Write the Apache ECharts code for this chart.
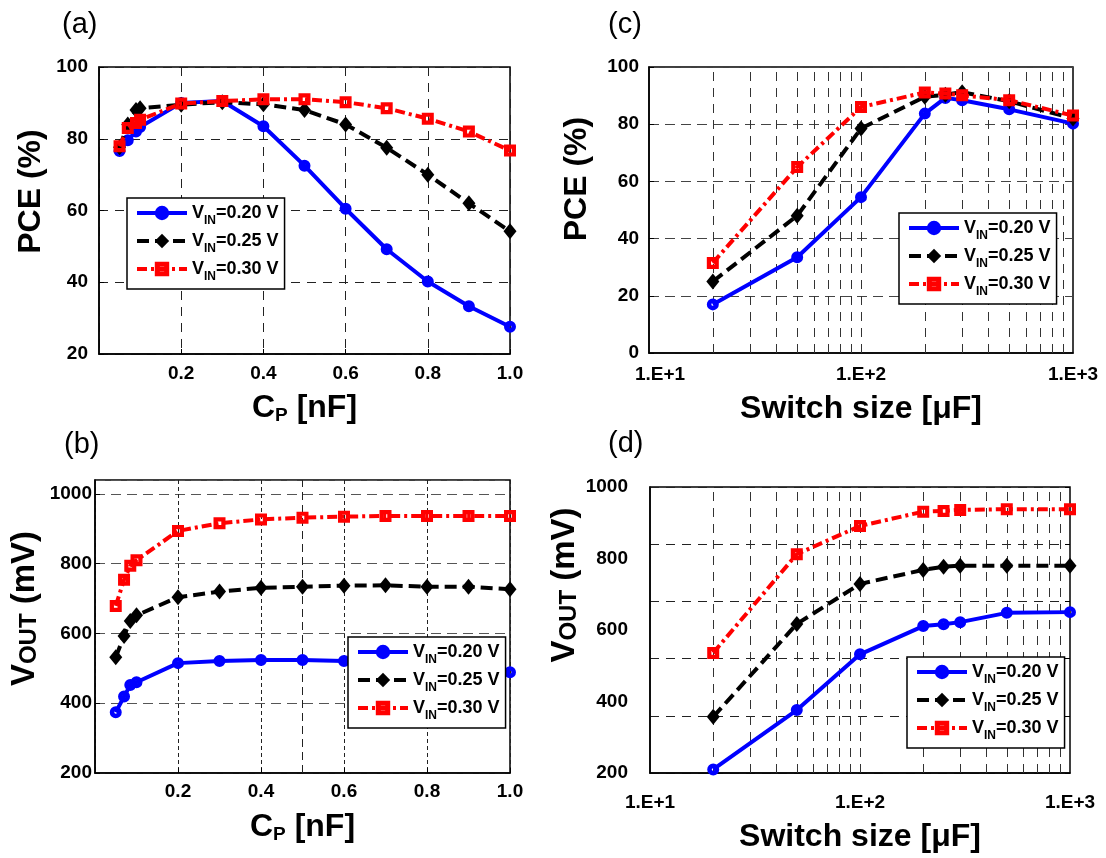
<!DOCTYPE html>
<html><head><meta charset="utf-8">
<script src="https://cdn.jsdelivr.net/npm/echarts@6/dist/echarts.min.js"></script>
<style>html,body{margin:0;padding:0;background:#fff}#c{width:1106px;height:858px}</style>
</head><body><div id="c"></div>
<script>
// ---------- data ----------
const seriesNames = ['VIN=0.20 V', 'VIN=0.25 V', 'VIN=0.30 V'];
const panelLabels = ['(a)', '(b)', '(c)', '(d)'];

// (a) PCE vs C_P
const cpA = [0.05, 0.07, 0.09, 0.1, 0.2, 0.3, 0.4, 0.5, 0.6, 0.7, 0.8, 0.9, 1.0];
const pceA020 = [76.6, 79.6, 82.0, 83.3, 90.0, 90.5, 83.5, 72.5, 60.5, 49.2, 40.2, 33.3, 27.6];
const pceA025 = [77.6, 84.0, 88.0, 88.5, 89.5, 90.2, 89.6, 88.0, 84.0, 77.5, 70.0, 62.0, 54.2];
const pceA030 = [77.9, 83.0, 84.4, 85.3, 89.8, 90.5, 91.0, 91.0, 90.2, 88.5, 85.6, 82.0, 76.7];

// (b) VOUT vs C_P
const cpB = [0.05, 0.07, 0.085, 0.1, 0.2, 0.3, 0.4, 0.5, 0.6, 0.7, 0.8, 0.9, 1.0];
const voutB020 = [374, 419, 452, 460, 515, 521, 524, 524, 521, 514, 506, 498, 489];
const voutB025 = [532, 593, 636, 652, 704, 720, 731, 734, 737, 738, 734, 734, 727];
const voutB030 = [679, 754, 794, 810, 894, 916, 927, 932, 935, 937, 937, 937, 937];

// (c) PCE vs switch size
const swC = [20, 50, 100, 200, 250, 300, 500, 1000];
const pceC020 = [17.0, 33.5, 54.5, 83.7, 89.2, 88.4, 85.2, 80.2];
const pceC025 = [25.0, 48.0, 78.5, 89.6, 90.3, 91.2, 88.0, 82.0];
const pceC030 = [31.5, 65.0, 86.0, 91.1, 90.7, 90.1, 88.4, 83.0];

// (d) VOUT vs switch size
const swD = [20, 50, 100, 200, 250, 300, 500, 1000];
const voutD020 = [210, 376, 532, 611, 616, 622, 648, 650];
const voutD025 = [357, 617, 729, 768, 777, 780, 780, 780];
const voutD030 = [536, 812, 891, 931, 933, 936, 938, 938];

// tick labels / grid positions
const cpTickLabels = ['0.2', '0.4', '0.6', '0.8', '1.0'];
const logTickLabels = {10: '1.E+1', 100: '1.E+2', 1000: '1.E+3'};
const logGridValues = [20, 30, 40, 50, 60, 70, 80, 90, 100, 200, 300, 400, 500, 600, 700, 800, 900];
const extraGridB = [0.5];

// ---------- styling ----------
const FONT = '"Liberation Sans", Arial, sans-serif';
const CIRCLE_HOLE = 'path://M10,0A10,10,0,1,1,10,20A10,10,0,1,1,10,0ZM10,7.6A2.4,2.4,0,1,0,10,12.4A2.4,2.4,0,1,0,10,7.6Z';
const RECT_HOLE = 'path://M0,0H20V20H0ZM7,7V13H13V7Z';
const seriesStyles = [
  {color: '#0000ff', type: 'solid', symbol: CIRCLE_HOLE, size: 12},
  {color: '#000000', type: [12, 6], symbol: 'diamond', size: [13, 16]},
  {color: '#ff0000', type: [10, 4, 3, 4], symbol: RECT_HOLE, size: 12}
];
const grids = [
  {left: 99, top: 67, width: 411, height: 287},
  {left: 95, top: 480, width: 415, height: 293},
  {left: 649, top: 67, width: 424, height: 286},
  {left: 650, top: 487, width: 420, height: 286}
];
grids.forEach(g => { g.show = true; g.borderColor = '#000'; g.borderWidth = 1.5; g.backgroundColor = 'transparent'; });

const labelStyle = {fontFamily: FONT, fontWeight: 'bold', fontSize: 19, color: '#000'};
const nameRich = {
  b: {fontFamily: FONT, fontWeight: 'bold', fontSize: 32, color: '#000'},
  s: {fontFamily: FONT, fontWeight: 'bold', fontSize: 19, color: '#000', padding: [14, 0, 0, 0]},
  vb: {fontFamily: FONT, fontWeight: 'bold', fontSize: 33, color: '#000', verticalAlign: 'bottom'},
  vs: {fontFamily: FONT, fontWeight: 'bold', fontSize: 24, color: '#000', verticalAlign: 'bottom'}
};
function splitDash(color, dash) {
  return {show: true, lineStyle: {color: color, width: 1, type: dash}};
}
function cpXAxis(gi, gap, margin) {
  return {
    type: 'value', gridIndex: gi, min: 0, max: 1, interval: 0.2,
    axisLine: {show: true, lineStyle: {color: '#000', width: 1.5}},
    axisTick: {show: true, inside: true, length: 5, lineStyle: {color: '#000'}},
    axisLabel: Object.assign({margin: margin, showMinLabel: false,
      formatter: v => cpTickLabels.find(t => Math.abs(parseFloat(t) - v) < 1e-6) || ''}, labelStyle),
    splitLine: splitDash('#222', [9, 7]),
    name: '{b|C}{s|P}{b| [nF]}', nameLocation: 'middle', nameGap: gap,
    nameTextStyle: {rich: nameRich}
  };
}
function logXAxis(gi, gap, margin) {
  return {
    type: 'log', logBase: 10, gridIndex: gi, min: 10, max: 1000,
    axisLine: {show: true, lineStyle: {color: '#000', width: 1.5}},
    axisTick: {show: false},
    axisLabel: Object.assign({margin: margin,
      formatter: v => v === 10 ? '{m|' + logTickLabels[v] + '}' : (logTickLabels[v] || ''),
      rich: {m: Object.assign({padding: [0, 0, 0, gi === 2 ? 22 : 0]}, labelStyle)}}, labelStyle),
    splitLine: {show: false},
    name: '{b|Switch size [μF]}', nameLocation: 'middle', nameGap: gap,
    nameTextStyle: {rich: nameRich}
  };
}
function yAxisBase(gi, min, max, interval, margin, name, gap, pad) {
  return {
    type: 'value', gridIndex: gi, min: min, max: max, interval: interval,
    axisLine: {show: true, lineStyle: {color: '#000', width: 1.5}},
    axisTick: {show: true, inside: true, length: 5, lineStyle: {color: '#000'}},
    axisLabel: Object.assign({margin: margin, formatter: v => String(v)}, labelStyle),
    splitLine: splitDash('#222', [9, 7]),
    name: name, nameLocation: 'middle', nameGap: gap, nameRotate: 90,
    nameTextStyle: {rich: nameRich, padding: [0, 0, 0, pad]}
  };
}

const xAxes = [cpXAxis(0, 38, 10), cpXAxis(1, 38, 9), logXAxis(2, 40, 12), logXAxis(3, 48, 20)];
const yAxes = [
  yAxisBase(0, 20, 100, 20, 11, '{b|PCE (%)}', 52, 38),
  yAxisBase(1, 200, 1040, 200, 3, '{vb|V}{vs|OUT}{vb| (mV)}', 54, 36),
  yAxisBase(2, 0, 100, 20, 10, '{b|PCE (%)}', 56, 62),
  yAxisBase(3, 200, 1000, 200, 22, '{vb|V}{vs|OUT}{vb| (mV)}', 68, 90),
  // grid-line axis for panel (d) (5 equal divisions)
  {type: 'value', gridIndex: 3, min: 0, max: 5, interval: 1, axisLabel: {show: false},
   axisLine: {show: false}, axisTick: {show: true, inside: true, length: 5, lineStyle: {color: '#000'}},
   splitLine: splitDash('#222', [9, 7])}
];
yAxes[1].axisLabel.showMaxLabel = false;
yAxes[1].splitLine = splitDash('#555', [10, 6]);
xAxes[1].splitLine = splitDash('#222', [4, 3]);
yAxes[2].splitLine = splitDash('#444', [10, 6]);
yAxes[3].splitLine = {show: false};
yAxes[3].axisTick = {show: false};

const panels = [
  {gi: 0, xi: 0, yi: 0, xs: cpA, ys: [pceA020, pceA025, pceA030]},
  {gi: 1, xi: 1, yi: 1, xs: cpB, ys: [voutB020, voutB025, voutB030]},
  {gi: 2, xi: 2, yi: 2, xs: swC, ys: [pceC020, pceC025, pceC030]},
  {gi: 3, xi: 3, yi: 3, xs: swD, ys: [voutD020, voutD025, voutD030]}
];
const series = [];
function gridLineSeries(xi, yi, values, dash, color) {
  return {
    type: 'line', xAxisIndex: xi, yAxisIndex: yi, data: [], silent: true, z: 1,
    markLine: {silent: true, symbol: ['none', 'none'], label: {show: false}, animation: false, z: 1,
      lineStyle: {type: dash, color: color, width: 1},
      emphasis: {disabled: true},
      data: values.map(v => ({xAxis: v}))}
  };
}
series.push(gridLineSeries(1, 1, extraGridB, [8, 5], '#222'));
series.push(gridLineSeries(2, 2, logGridValues, [9, 7], '#333'));
series.push(gridLineSeries(3, 3, logGridValues, [9, 7], '#333'));
panels.forEach(p => {
  p.ys.forEach((ys, k) => {
    const st = seriesStyles[k];
    series.push({
      type: 'line', name: seriesNames[k], xAxisIndex: p.xi, yAxisIndex: p.yi,
      data: p.xs.map((x, i) => [x, ys[i]]),
      symbol: st.symbol, symbolSize: st.size, showAllSymbol: true,
      lineStyle: {color: st.color, width: 4, type: st.type},
      itemStyle: {color: st.color, borderWidth: 0},
      z: 3 + k, animation: false
    });
  });
});

const legendBoxes = [
  {left: 127, top: 198}, {left: 348, top: 637}, {left: 899, top: 213}, {left: 907, top: 657}
];
const legends = legendBoxes.map(b => ({
  data: seriesNames, orient: 'vertical', left: b.left, top: b.top,
  backgroundColor: '#fff', borderColor: '#000', borderWidth: 1.5, borderRadius: 0,
  padding: [6, 6, 6, 8], itemGap: 5, itemWidth: 50, itemHeight: 18, selectedMode: false,
  lineStyle: {width: 4},
  formatter: n => n.replace(/^VIN(.*)$/, '{v|V}{s|IN}{v|$1}'),
  textStyle: {fontFamily: FONT, fontWeight: 'bold', fontSize: 18, color: '#000',
    rich: {v: {fontFamily: FONT, fontWeight: 'bold', fontSize: 18, color: '#000'},
           s: {fontFamily: FONT, fontWeight: 'bold', fontSize: 12, color: '#000', padding: [16, 0, 0, 0]}}}
}));

const titlePos = [{left: 62, top: 10}, {left: 64, top: 430}, {left: 608, top: 10}, {left: 608, top: 429}];
const titles = panelLabels.map((t, i) => ({
  text: t, left: titlePos[i].left, top: titlePos[i].top, padding: 0,
  textStyle: {fontFamily: FONT, fontWeight: 'normal', fontSize: 29, color: '#000'}
}));

const chart = echarts.init(document.getElementById('c'), null, {renderer: 'canvas'});
chart.setOption({
  backgroundColor: '#fff', animation: false,
  title: titles, grid: grids, xAxis: xAxes, yAxis: yAxes, legend: legends, series: series
});
</script></body></html>
